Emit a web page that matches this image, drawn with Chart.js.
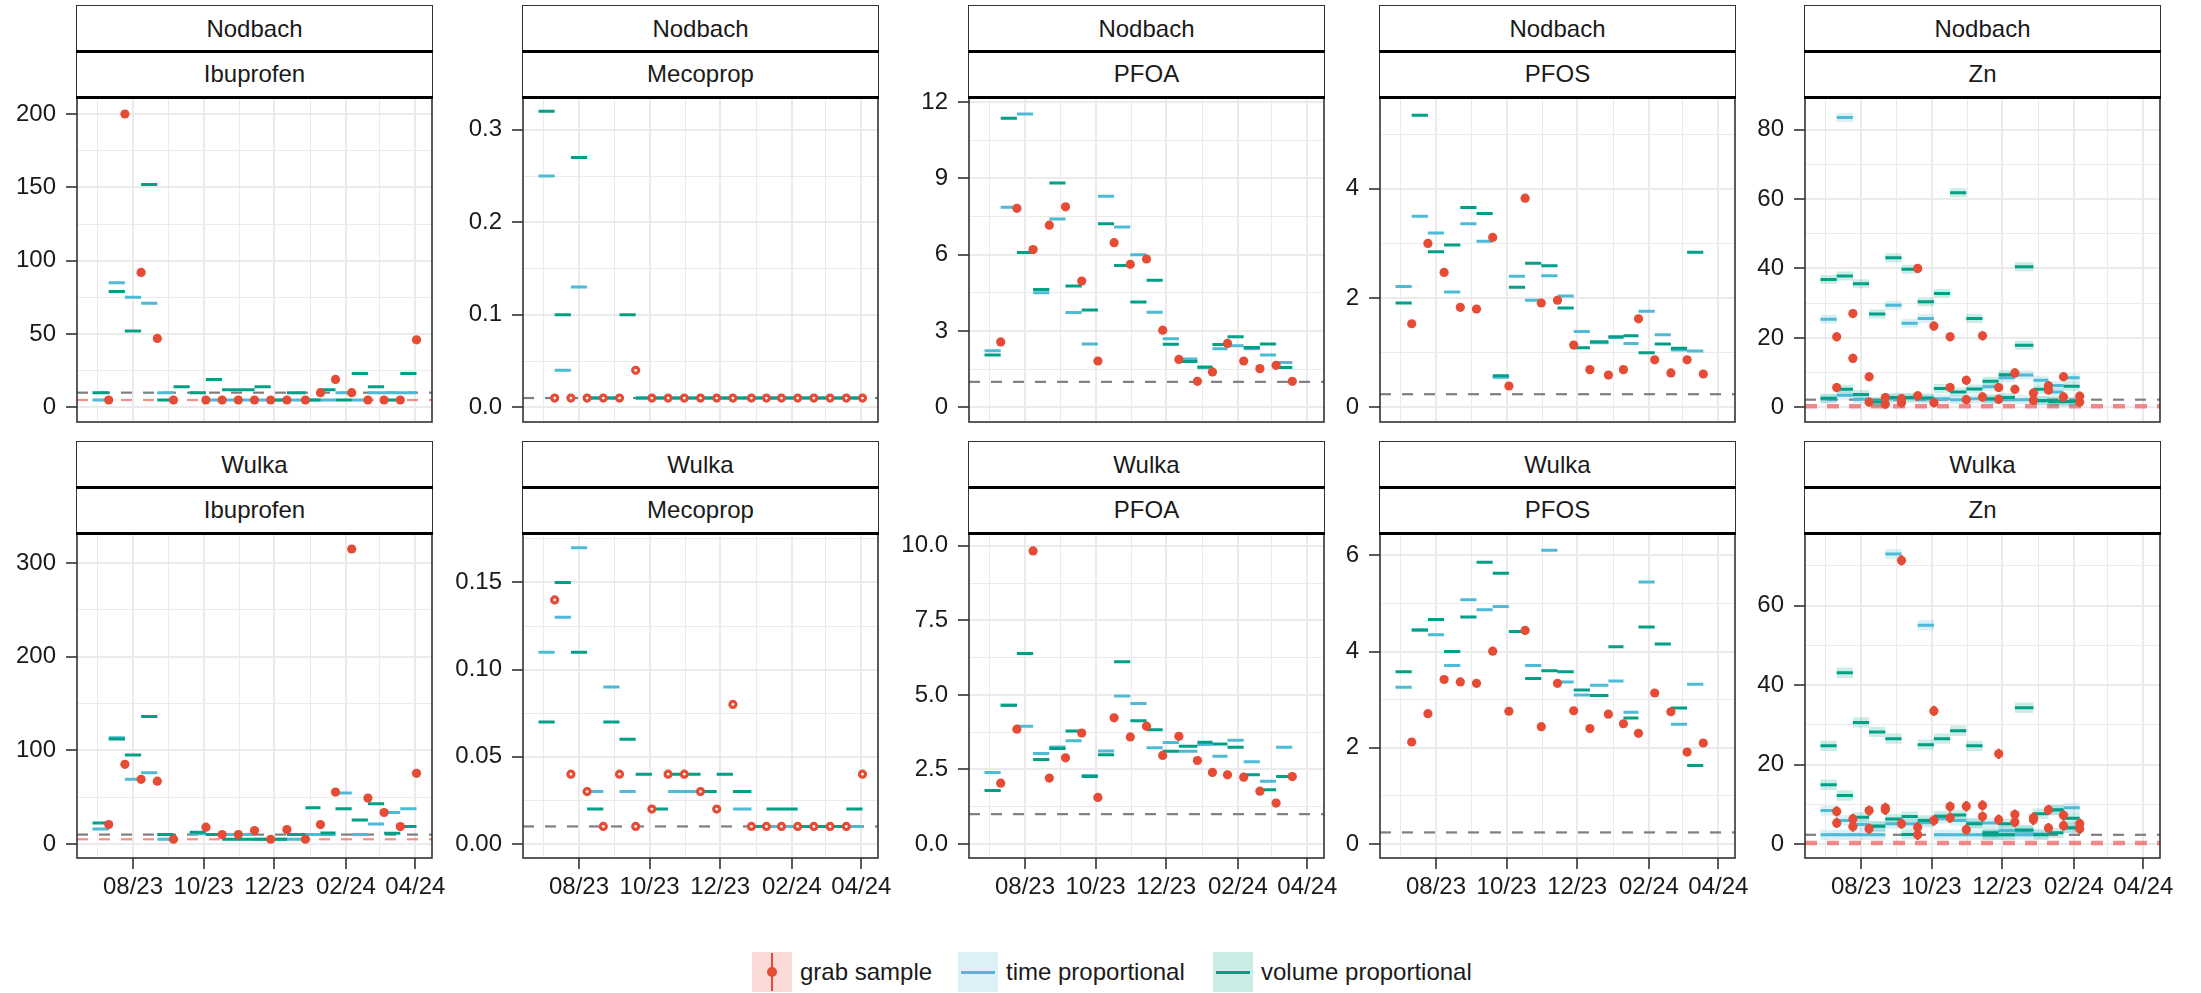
<!DOCTYPE html>
<html><head><meta charset="utf-8">
<script src="https://cdn.jsdelivr.net/npm/chart.js@4/dist/chart.umd.min.js"></script>
<style>
html,body{margin:0;padding:0;background:#fff;}
body{width:2201px;height:993px;position:relative;overflow:hidden;font-family:'Liberation Sans',Arial,sans-serif;}
canvas{position:absolute;}
.strip{position:absolute;box-sizing:border-box;background:#fff;border-left:1.6px solid #333;border-right:1.6px solid #333;text-align:center;font-size:24px;color:#1a1a1a;white-space:nowrap;}
.sline{position:absolute;height:3px;background:#000;}
.lkey{position:absolute;width:40px;height:40px;}
.ltxt{position:absolute;height:40px;line-height:40px;font-size:24px;color:#1a1a1a;white-space:nowrap;}
</style></head><body>
<script>
// ---------------- data ----------------
const siteNames = ['Nodbach', 'Wulka'];
const substanceNames = ['Ibuprofen', 'Mecoprop', 'PFOA', 'PFOS', 'Zn'];
// sampling dates: composite periods run between consecutive dates, grab samples on dates 2..21
const sampleDates = ['2023-06-27','2023-07-11','2023-07-25','2023-08-08','2023-08-22','2023-09-05','2023-09-19',
  '2023-10-03','2023-10-17','2023-10-31','2023-11-14','2023-11-28','2023-12-12','2023-12-28','2024-01-10',
  '2024-01-23','2024-02-06','2024-02-20','2024-03-05','2024-03-19','2024-04-02'];
const xLimits = ['2023-06-13T14:24:00Z', '2024-04-15T09:36:00Z'];
const xTickDates = ['2023-07-01','2023-08-01','2023-09-01','2023-10-01','2023-11-01','2023-12-01','2024-01-01','2024-02-01','2024-03-01','2024-04-01'];
const xTickLabels = ['', '08/23', '', '10/23', '', '12/23', '', '02/24', '', '04/24'];

// Nodbach
const nodIbuGrab = [5,200,92,47,5,null,5,5,5,5,5,5,5,10,19,10,5,5,5,46];
const nodIbuTime = [5,85,75,71,10,null,null,5,5,5,5,5,5,5,5,10,5,10,10,10];
const nodIbuVol  = [10,79,52,152,5,14,10,19,12,12,14,5,10,5,12,5,23,14,5,23];
const nodMecGrab = [0.01,0.01,0.01,0.01,0.01,0.04,0.01,0.01,0.01,0.01,0.01,0.01,0.01,0.01,0.01,0.01,0.01,0.01,0.01,0.01];
const nodMecTime = [0.25,0.04,0.13,0.01,0.01,null,0.01,0.01,0.01,0.01,0.01,0.01,0.01,0.01,0.01,0.01,0.01,0.01,0.01,0.01];
const nodMecVol  = [0.32,0.10,0.27,0.01,0.01,0.10,0.01,0.01,0.01,0.01,0.01,0.01,0.01,0.01,0.01,0.01,0.01,0.01,0.01,0.01];
const nodPfoaGrab = [2.57,7.82,6.20,7.16,7.88,4.96,1.82,6.47,5.62,5.83,3.03,1.88,1.02,1.39,2.51,1.82,1.52,1.65,1.02,null];
const nodPfoaTime = [2.22,7.86,11.53,4.50,7.40,3.73,2.49,8.30,7.09,6.00,3.74,2.69,1.90,1.55,2.30,2.42,2.30,2.06,1.76,null];
const nodPfoaVol  = [2.06,11.36,6.08,4.63,8.82,4.77,3.82,7.21,5.57,4.14,4.99,2.48,1.80,1.58,2.47,2.77,2.35,2.49,1.56,null];
const nodPfosGrab = [1.53,3.00,2.47,1.83,1.80,3.11,0.39,3.83,1.91,1.96,1.14,0.69,0.59,0.69,1.62,0.87,0.63,0.87,0.61,null];
const nodPfosTime = [2.21,3.50,3.19,2.11,3.36,3.04,0.55,2.40,1.96,2.41,2.04,1.39,1.18,1.28,1.17,1.76,1.33,1.05,1.03,null];
const nodPfosVol  = [1.91,5.35,2.85,2.97,3.66,3.55,0.58,2.20,2.64,2.59,1.82,1.09,1.20,1.29,1.31,1.00,1.16,1.08,2.84,null];
const nodZnGrabHi = [20.3,27.0,8.8,2.8,2.5,40.0,23.4,20.3,7.8,20.6,5.7,9.9,4.1,6.2,8.8,3.2,null,null,null,null];
const nodZnGrabLo = [5.7,14.1,1.5,0.9,1.3,3.3,1.3,5.7,2.2,3.0,2.3,5.2,2.0,5.0,3.0,1.5,null,null,null,null];
const nodZnTimeHi = [25.4,83.5,null,null,29.4,24.2,25.6,null,null,null,5.9,8.5,9.3,7.8,6.3,8.5,null,null,null,null];
const nodZnTimeLo = [2.4,3.5,2.3,1.7,2.5,2.6,2.4,2.5,2.2,2.5,2.2,2.3,2.2,1.8,4.4,1.5,null,null,null,null];
const nodZnVolHi  = [36.8,37.8,35.6,26.9,43.1,39.8,30.4,32.8,61.8,25.6,7.5,9.4,40.5,5.2,1.8,6.1,null,null,null,null];
const nodZnVolLo  = [2.6,5.2,3.7,1.5,2.8,2.8,2.7,5.4,4.4,5.3,2.5,2.8,17.9,2.0,1.6,1.7,null,null,null,null];

// Wulka
const wulIbuGrab = [20.7,85,69,67,5,null,17.9,10,10,14.3,5,15.4,5,20.7,55.4,315,49,33.6,18.6,75.4];
const wulIbuTime = [16,113.5,69,76,5,null,11,10,10,10,5,5,5,10,10,54.3,10,21.4,33.6,37.5];
const wulIbuVol  = [22.5,112,95,136,10,null,12.5,10,5,5,5,5,10,38.6,11.8,37.5,25.7,42.9,11.4,18.6];
const wulMecGrab = [0.14,0.04,0.03,0.01,0.04,0.01,0.02,0.04,0.04,0.03,0.02,0.08,0.01,0.01,0.01,0.01,0.01,0.01,0.01,0.04];
const wulMecTime = [0.11,0.13,0.17,0.03,0.09,0.03,null,null,0.03,0.03,null,null,0.02,0.01,0.01,0.01,0.01,0.01,0.01,0.01];
const wulMecVol  = [0.07,0.15,0.11,0.02,0.07,0.06,0.04,0.02,0.04,0.04,0.03,0.04,0.03,0.01,0.02,0.02,0.01,0.01,0.01,0.02];
const wulPfoaGrab = [2.04,3.85,9.83,2.21,2.89,3.72,1.56,4.23,3.59,3.95,2.97,3.61,2.80,2.40,2.32,2.24,1.77,1.37,2.26,null];
const wulPfoaTime = [2.40,4.65,3.95,3.03,3.25,3.46,2.30,3.12,4.96,4.71,3.23,3.40,3.11,3.34,2.94,3.48,2.76,2.10,3.24,null];
const wulPfoaVol  = [1.79,4.65,6.39,2.83,3.20,3.79,2.26,2.99,6.11,4.13,3.83,3.11,3.28,3.41,3.35,3.24,2.32,1.82,2.26,null];
const wulPfosGrab = [2.12,2.71,3.42,3.37,3.34,4.01,2.76,4.44,2.44,3.34,2.77,2.40,2.70,2.50,2.30,3.14,2.75,1.91,2.10,null];
const wulPfosTime = [3.26,4.45,4.35,3.71,5.08,4.87,4.94,4.42,3.71,6.11,3.37,3.10,3.30,3.39,2.74,5.45,null,2.49,3.32,null];
const wulPfosVol  = [3.58,4.45,4.67,4.00,4.72,5.86,5.63,4.42,3.44,3.60,3.58,3.20,3.09,4.10,2.62,4.51,4.16,2.83,1.63,null];
const wulZnGrabHi = [8.2,6.3,8.4,9.1,71.4,4.2,33.5,9.4,9.5,9.7,22.7,7.4,6.6,8.6,7.2,5.1,null,null,null,null];
const wulZnGrabLo = [5.3,4.4,3.8,8.6,5.1,2.3,5.9,6.6,3.6,6.9,6.1,5.5,6.1,4.0,4.6,3.8,null,null,null,null];
const wulZnTimeHi = [8.4,5.9,4.9,4.4,73.0,5.1,55.1,6.4,5.9,5.3,5.3,3.4,3.2,2.5,8.5,9.1,null,null,null,null];
const wulZnTimeLo = [2.3,2.3,2.3,2.3,5.1,null,5.4,2.3,2.3,2.3,2.3,2.3,2.3,null,null,4.0,null,null,null,null];
const wulZnVolHi  = [24.7,43.1,30.6,28.2,26.5,6.9,25.0,26.5,28.5,24.7,2.8,5.1,34.3,7.6,8.6,6.5,null,null,null,null];
const wulZnVolLo  = [14.9,12.2,6.7,4.5,6.3,2.4,5.9,7.0,7.3,5.1,2.3,2.3,3.5,2.3,2.8,4.1,null,null,null,null];
const znUncertainty = 1.3;

// y axes: limits, labelled ticks, tick labels, minor grid values
const nodIbuY = [-10.0, 211.6], nodIbuTicks = [0,50,100,150,200], nodIbuLabels = ['0','50','100','150','200'], nodIbuMinor = [25,75,125,175];
const nodMecY = [-0.0159, 0.3354], nodMecTicks = [0,0.1,0.2,0.3], nodMecLabels = ['0.0','0.1','0.2','0.3'], nodMecMinor = [0.05,0.15,0.25];
const nodPfoaY = [-0.578, 12.197], nodPfoaTicks = [0,3,6,9,12], nodPfoaLabels = ['0','3','6','9','12'], nodPfoaMinor = [1.5,4.5,7.5,10.5];
const nodPfosY = [-0.269, 5.682], nodPfosTicks = [0,2,4], nodPfosLabels = ['0','2','4'], nodPfosMinor = [1,3,5];
const nodZnY = [-4.23, 89.4], nodZnTicks = [0,20,40,60,80], nodZnLabels = ['0','20','40','60','80'], nodZnMinor = [10,30,50,70];
const wulIbuY = [-15.0, 332.1], wulIbuTicks = [0,100,200,300], wulIbuLabels = ['0','100','200','300'], wulIbuMinor = [50,150,250];
const wulMecY = [-0.0081, 0.1784], wulMecTicks = [0,0.05,0.1,0.15], wulMecLabels = ['0.00','0.05','0.10','0.15'], wulMecMinor = [0.025,0.075,0.125,0.175];
const wulPfoaY = [-0.471, 10.43], wulPfoaTicks = [0,2.5,5,7.5,10], wulPfoaLabels = ['0.0','2.5','5.0','7.5','10.0'], wulPfoaMinor = [1.25,3.75,6.25,8.75];
const wulPfosY = [-0.292, 6.467], wulPfosTicks = [0,2,4,6], wulPfosLabels = ['0','2','4','6'], wulPfosMinor = [1,3,5];
const wulZnY = [-3.54, 78.3], wulZnTicks = [0,20,40,60], wulZnLabels = ['0','20','40','60'], wulZnMinor = [10,30,50,70];

// limits of quantification (grey dashed) and red dashed references
const nodLoq = [10, 0.01, 1.0, 0.24, 2.2];
const nodLoqRed = [5, null, null, null, 0.3];
const wulLoq = [10, 0.01, 1.0, 0.24, 2.3];
const wulLoqRed = [5, null, null, null, 0.25];

// ---------------- layout & style ----------------
const colLeft = [77, 523, 969, 1380, 1805];
const rowPlotTop = [97, 533];
const rowStripTop = [5, 441];
const PW = 355, PH = 325, YAXW = 75, STRIPH = 46;
const RED = '#E64B35', BLUE = '#4DBBD5', GREEN = '#00A087';
Chart.defaults.font.family = "'Liberation Sans', Arial, sans-serif";

function day(s){ return Date.parse(s.length === 10 ? s + 'T00:00:00Z' : s) / 86400000; }
const X0 = day(xLimits[0]), X1 = day(xLimits[1]);
function segs(vals){ const d=[]; vals.forEach((v,i)=>{ if(v==null) return; const a=day(sampleDates[i]), b=day(sampleDates[i+1]); d.push({x:a,y:v},{x:b,y:v},{x:b,y:null}); }); return d; }
function pts(vals){ const d=[]; vals.forEach((v,i)=>{ if(v!=null) d.push({x:day(sampleDates[i+1]), y:v}); }); return d; }
function errs(vals,e){ const d=[]; vals.forEach((v,i)=>{ if(v==null) return; const x=day(sampleDates[i+1]); d.push({x,y:v-e},{x,y:v+e},{x,y:null}); }); return d; }
function hline(v){ return [{x:X0,y:v},{x:X1,y:v}]; }

const panels = [
  {row:0,col:0,site:0,sub:0,grab:[nodIbuGrab],time:[nodIbuTime],vol:[nodIbuVol],y:nodIbuY,ticks:nodIbuTicks,labels:nodIbuLabels,minor:nodIbuMinor,loq:nodLoq[0],loqRed:nodLoqRed[0]},
  {row:0,col:1,site:0,sub:1,grab:[nodMecGrab],time:[nodMecTime],vol:[nodMecVol],y:nodMecY,ticks:nodMecTicks,labels:nodMecLabels,minor:nodMecMinor,loq:nodLoq[1],loqRed:nodLoqRed[1],ring:true},
  {row:0,col:2,site:0,sub:2,grab:[nodPfoaGrab],time:[nodPfoaTime],vol:[nodPfoaVol],y:nodPfoaY,ticks:nodPfoaTicks,labels:nodPfoaLabels,minor:nodPfoaMinor,loq:nodLoq[2],loqRed:nodLoqRed[2]},
  {row:0,col:3,site:0,sub:3,grab:[nodPfosGrab],time:[nodPfosTime],vol:[nodPfosVol],y:nodPfosY,ticks:nodPfosTicks,labels:nodPfosLabels,minor:nodPfosMinor,loq:nodLoq[3],loqRed:nodLoqRed[3]},
  {row:0,col:4,site:0,sub:4,grab:[nodZnGrabHi,nodZnGrabLo],time:[nodZnTimeHi,nodZnTimeLo],vol:[nodZnVolHi,nodZnVolLo],y:nodZnY,ticks:nodZnTicks,labels:nodZnLabels,minor:nodZnMinor,loq:nodLoq[4],loqRed:nodLoqRed[4],zn:true},
  {row:1,col:0,site:1,sub:0,grab:[wulIbuGrab],time:[wulIbuTime],vol:[wulIbuVol],y:wulIbuY,ticks:wulIbuTicks,labels:wulIbuLabels,minor:wulIbuMinor,loq:wulLoq[0],loqRed:wulLoqRed[0]},
  {row:1,col:1,site:1,sub:1,grab:[wulMecGrab],time:[wulMecTime],vol:[wulMecVol],y:wulMecY,ticks:wulMecTicks,labels:wulMecLabels,minor:wulMecMinor,loq:wulLoq[1],loqRed:wulLoqRed[1],ring:true},
  {row:1,col:2,site:1,sub:2,grab:[wulPfoaGrab],time:[wulPfoaTime],vol:[wulPfoaVol],y:wulPfoaY,ticks:wulPfoaTicks,labels:wulPfoaLabels,minor:wulPfoaMinor,loq:wulLoq[2],loqRed:wulLoqRed[2]},
  {row:1,col:3,site:1,sub:3,grab:[wulPfosGrab],time:[wulPfosTime],vol:[wulPfosVol],y:wulPfosY,ticks:wulPfosTicks,labels:wulPfosLabels,minor:wulPfosMinor,loq:wulLoq[3],loqRed:wulLoqRed[3]},
  {row:1,col:4,site:1,sub:4,grab:[wulZnGrabHi,wulZnGrabLo],time:[wulZnTimeHi,wulZnTimeLo],vol:[wulZnVolHi,wulZnVolLo],y:wulZnY,ticks:wulZnTicks,labels:wulZnLabels,minor:wulZnMinor,loq:wulLoq[4],loqRed:wulLoqRed[4],zn:true}
];

const framePlugin = { id:'frame', afterDraw(chart){ const {ctx, chartArea:a} = chart; ctx.save(); ctx.strokeStyle='#333'; ctx.lineWidth=1.6; ctx.strokeRect(a.left, a.top, a.right-a.left, a.bottom-a.top); ctx.restore(); } };

function buildDatasets(p){
  const ds = [];
  const base = {type:'line', pointRadius:0, pointHoverRadius:0, pointHitRadius:0, fill:false, tension:0, borderCapStyle:'butt', spanGaps:false};
  ds.push({...base, data:hline(p.loq), borderColor:'#7f7f7f', borderWidth:2.2, borderDash:[11,11], order:30});
  if (p.loqRed != null) ds.push({...base, data:hline(p.loqRed), borderColor: p.zn ? 'rgba(236,90,90,0.7)' : 'rgba(230,75,53,0.6)', borderWidth: p.zn ? 4.5 : 2.2, borderDash: p.zn ? [12,10] : [11,11], order:29});
  if (p.zn){
    const bandW = ctx => { const s = ctx.chart.scales.y; const w = Math.abs(s.getPixelForValue(0) - s.getPixelForValue(2*znUncertainty)); return isFinite(w) && w > 0 ? w : 9; };
    p.time.forEach(v => ds.push({...base, data:segs(v), borderColor:'rgba(77,187,213,0.2)', borderWidth:bandW, order:25}));
    p.vol.forEach(v => ds.push({...base, data:segs(v), borderColor:'rgba(0,160,135,0.2)', borderWidth:bandW, order:24}));
    p.grab.forEach(v => ds.push({...base, data:errs(v, znUncertainty), borderColor:RED, borderWidth:2.5, order:3}));
  }
  p.time.forEach(v => ds.push({...base, data:segs(v), borderColor:BLUE, borderWidth:3, order:12}));
  p.vol.forEach(v => ds.push({...base, data:segs(v), borderColor:GREEN, borderWidth:3, order:11}));
  p.grab.forEach(v => ds.push({...base, data:pts(v), showLine:false, pointRadius: p.ring ? 3.0 : 4.6, pointBorderWidth: p.ring ? 3.2 : 0, pointBorderColor:RED, pointBackgroundColor: p.ring ? '#ffffff' : RED, order:1}));
  return ds;
}

function makeOptions(p, bottom){
  const yT = p.ticks.map(v=>({value:v, major:true})).concat(p.minor.map(v=>({value:v, major:false}))).sort((a,b)=>a.value-b.value);
  const gridW = c => (c.tick && c.tick.major) ? 2 : 1;
  const tickC = c => (c.tick && c.tick.major) ? '#333333' : 'rgba(0,0,0,0)';
  return {
    responsive:false, animation:false, events:[], devicePixelRatio:1,
    layout:{padding:{left:0, right:40, top:30, bottom: bottom ? 0 : 30}},
    plugins:{legend:{display:false}, tooltip:{enabled:false}},
    scales:{
      x:{type:'linear', min:X0, max:X1,
        afterBuildTicks: s => { s.ticks = xTickDates.map((d,i)=>({value:day(d), major: xTickLabels[i] !== ''})); },
        afterFit: s => { s.height = bottom ? 50 : 0; },
        ticks:{display:bottom, autoSkip:false, maxRotation:0, minRotation:0, padding:4, color:'#1a1a1a', font:{size:24}, callback:(v,i)=>xTickLabels[i]},
        grid:{color:'#ebebeb', lineWidth:gridW, drawTicks:bottom, tickLength:11, tickColor:tickC, tickWidth:1.6},
        border:{display:false}},
      y:{type:'linear', min:p.y[0], max:p.y[1],
        afterBuildTicks: s => { s.ticks = yT.map(t=>({value:t.value, major:t.major})); },
        afterFit: s => { s.width = YAXW; },
        ticks:{autoSkip:false, padding:10, color:'#1a1a1a', font:{size:24}, callback:(v)=>{ const k = p.ticks.indexOf(v); return k < 0 ? '' : p.labels[k]; }},
        grid:{color:'#ebebeb', lineWidth:gridW, drawTicks:true, tickLength:11, tickColor:tickC, tickWidth:1.6},
        border:{display:false}}
    }
  };
}

panels.forEach(p => {
  const bottom = p.row === 1;
  const cv = document.createElement('canvas');
  const w = YAXW + PW + 40, h = 30 + PH + (bottom ? 50 : 30);
  cv.width = w; cv.height = h;
  cv.style.width = w + 'px'; cv.style.height = h + 'px';
  cv.style.left = (colLeft[p.col] - YAXW) + 'px';
  cv.style.top = (rowPlotTop[p.row] - 30) + 'px';
  document.body.appendChild(cv);
  new Chart(cv.getContext('2d'), {type:'line', data:{datasets:buildDatasets(p)}, options:makeOptions(p, bottom), plugins:[framePlugin]});
});

// facet strips
function addDiv(cls, style, text){ const d = document.createElement('div'); d.className = cls; Object.assign(d.style, style); if (text) d.textContent = text; document.body.appendChild(d); return d; }
panels.forEach(p => {
  const L = colLeft[p.col] - 0.8, T = rowStripTop[p.row];
  addDiv('strip', {left:L+'px', top:T+'px', width:(PW+1.6)+'px', height:STRIPH+'px', lineHeight:STRIPH+'px', borderTop:'1.6px solid #333'}, siteNames[p.site]);
  addDiv('strip', {left:L+'px', top:(T+STRIPH)+'px', width:(PW+1.6)+'px', height:STRIPH+'px', lineHeight:STRIPH+'px'}, substanceNames[p.sub]);
  addDiv('sline', {left:L+'px', top:(T+STRIPH-1.5)+'px', width:(PW+1.6)+'px'});
  addDiv('sline', {left:L+'px', top:(T+2*STRIPH-1.5)+'px', width:(PW+1.6)+'px'});
});

// legend
const legendLabels = ['grab sample', 'time proportional', 'volume proportional'];
const legendX = [752, 958, 1213];
const legendTop = 952;
legendLabels.forEach((lab, i) => {
  const x = legendX[i];
  const fill = ['rgba(230,75,53,0.2)','rgba(77,187,213,0.2)','rgba(0,160,135,0.2)'][i];
  const key = addDiv('lkey', {left:x+'px', top:legendTop+'px', background:fill});
  if (i === 0){
    const l = document.createElement('div'); Object.assign(l.style, {position:'absolute', left:'18.75px', top:'1px', width:'2.5px', height:'38px', background:RED}); key.appendChild(l);
    const dot = document.createElement('div'); Object.assign(dot.style, {position:'absolute', left:'15px', top:'15px', width:'10px', height:'10px', borderRadius:'50%', background:RED}); key.appendChild(dot);
  } else {
    const l = document.createElement('div'); Object.assign(l.style, {position:'absolute', left:'3px', top:'18.5px', width:'34px', height:'3px', background: i === 1 ? BLUE : GREEN}); key.appendChild(l);
  }
  addDiv('ltxt', {left:(x+48)+'px', top:legendTop+'px'}, lab);
});
</script>
</body></html>
